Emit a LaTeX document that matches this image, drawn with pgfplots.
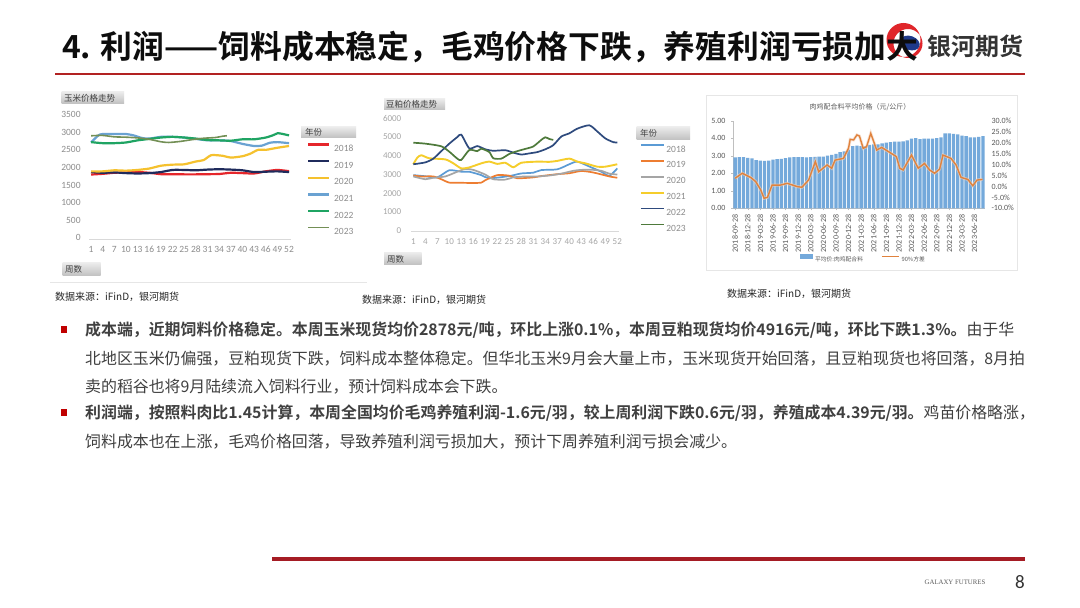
\documentclass[border=0pt]{standalone}
\usepackage{pgfplots}
\pgfplotsset{compat=1.18}
\usepackage{fontspec}
\setmainfont{Noto Sans CJK SC}[BoldFont={Noto Sans CJK SC Bold}]
\newfontfamily\calfont{Carlito}
\newfontfamily\tmsfont{Liberation Serif}
\definecolor{tc}{HTML}{404040}
\definecolor{red18}{HTML}{E5262B}
\definecolor{nav19}{HTML}{1F2B5C}
\definecolor{yel20}{HTML}{F5C12E}
\definecolor{blu21}{HTML}{6AA2D2}
\definecolor{grn22}{HTML}{1FA463}
\definecolor{olv23}{HTML}{738F55}
\definecolor{b18}{HTML}{5B9BD5}
\definecolor{o19}{HTML}{ED7D31}
\definecolor{g20}{HTML}{A5A5A5}
\definecolor{y21}{HTML}{F5CD2B}
\definecolor{n22}{HTML}{2E4A7D}
\definecolor{gr23}{HTML}{4E7A3B}
\definecolor{barb}{HTML}{74A9DB}
\definecolor{lino}{HTML}{E0823D}
\definecolor{c1ax}{HTML}{D9D9D9}
\definecolor{c1tk}{HTML}{8C8C8C}
\definecolor{c2tk}{HTML}{A6A6A6}
\definecolor{c3tk}{HTML}{595959}
\definecolor{c3ax}{HTML}{BFBFBF}
\definecolor{frame}{HTML}{E6E6E6}
\definecolor{titred}{HTML}{B22222}
\definecolor{botred}{HTML}{A51C24}
\definecolor{logoblue}{HTML}{1F3A8A}
\definecolor{logored}{HTML}{E0262B}
\definecolor{bullet}{HTML}{C00000}
\tikzset{btn/.style={top color=white!92!black, bottom color=white!75!black, draw=none}}
\begin{document}
\begin{tikzpicture}[x=1pt,y=1pt]
\useasboundingbox (0,0) rectangle (1080,608);
\fill[white] (0,0) rectangle (1080,608);
% logo
\fill[logored, even odd rule] (903.5,568) circle (17) (908,564.5) circle (14.5);
\fill[logoblue, rotate around={-20:(910,565)}] (910,565) ellipse (10 and 7);
% title
\node[anchor=base west, inner sep=0pt, text=black!95] at (62,549.6) {\fontsize{31.8}{31.8}\selectfont\bfseries 4. 利润——饲料成本稳定，毛鸡价格下跌，养殖利润亏损加大};
\node[anchor=base west, inner sep=0pt, text=black!80] at (927,552.7) {\fontsize{24}{24}\selectfont\bfseries 银河期货};
\draw[titred, line width=1.8pt] (55,534) -- (1025,534);
% chart frames
\draw[frame, line width=0.8pt] (50,326) -- (367,326);
\draw[frame, line width=0.8pt] (706,338) rectangle (1017,513);
% chart 1 buttons
\shade[btn] (61.7,504) rectangle (124,516);
\node[anchor=west, inner sep=0pt, text=tc] at (64,510) {\fontsize{8.5}{8.5}\selectfont 玉米价格走势};
\shade[btn] (62.7,332) rectangle (100.7,345);
\node[anchor=west, inner sep=0pt, text=tc] at (65,338.5) {\fontsize{8.5}{8.5}\selectfont 周数};
\shade[btn] (301,470) rectangle (356,481);
\node[anchor=west, inner sep=0pt, text=tc] at (305,475.5) {\fontsize{8.5}{8.5}\selectfont 年份};
% chart 2 buttons
\shade[btn] (384,498) rectangle (445,509);
\node[anchor=west, inner sep=0pt, text=tc] at (386,503.5) {\fontsize{8.5}{8.5}\selectfont 豆粕价格走势};
\shade[btn] (384,343) rectangle (421.7,355.3);
\node[anchor=west, inner sep=0pt, text=tc] at (387,349.2) {\fontsize{8.5}{8.5}\selectfont 周数};
\shade[btn] (636.7,468) rectangle (690,481);
\node[anchor=west, inner sep=0pt, text=tc] at (640,474.5) {\fontsize{8.5}{8.5}\selectfont 年份};

% ---------- chart 1 ----------
\begin{axis}[at={(89.1pt,369pt)}, anchor=south west, scale only axis, width=201.9pt, height=123.3pt,
  xmin=0.5, xmax=52.5, ymin=0, ymax=3500,
  xtick={1,4,7,10,13,16,19,22,25,28,31,34,37,40,43,46,49,52}, ytick={0,500,...,3500},
  axis lines*=left, x axis line style={draw=c1ax,-}, y axis line style={draw=none},
  major tick length=0pt, typeset ticklabels with strut,
  tick label style={font=\calfont\fontsize{9.5}{9.5}\selectfont, text=c1tk},
  /pgf/number format/assume math mode=true, /pgf/number format/1000 sep={},
  xticklabel style={yshift=-3pt, inner xsep=0pt}, yticklabel style={xshift=-5pt},
  legend style={at={(1.079,0.776)}, anchor=north west, draw=none, fill=none, inner sep=0pt, outer sep=0pt,
    row sep=8.6pt, font=\calfont\fontsize{9.5}{9.5}\selectfont, text=c1tk,
    nodes={inner sep=0pt, text height=7pt, text depth=0pt},
    /tikz/every odd column/.append style={column sep=4pt}},
  legend cell align=left,
  legend image code/.code={\draw[#1] (0pt,3.5pt) -- (21pt,3.5pt);},
]
\addplot[red18, line width=2.2pt, smooth, tension=0.4] coordinates {(1,1830)(4,1850)(7,1880)(10,1890)(13,1900)(16,1880)(19,1840)(22,1840)(25,1835)(28,1835)(31,1840)(34,1845)(37,1880)(40,1870)(43,1860)(46,1920)(49,1960)(52,1925)};
\addlegendentry{2018}
\addplot[nav19, line width=2.2pt, smooth, tension=0.4] coordinates {(1,1900)(4,1880)(7,1890)(10,1870)(13,1860)(16,1870)(19,1900)(22,1960)(25,1960)(28,1950)(31,1970)(34,1980)(37,1970)(40,1950)(43,1900)(46,1910)(49,1920)(52,1900)};
\addlegendentry{2019}
\addplot[yel20, line width=2.2pt, smooth, tension=0.4] coordinates {(1,1920)(4,1920)(7,1950)(10,1940)(13,1960)(16,2000)(19,2080)(22,2110)(25,2120)(28,2200)(30,2240)(32,2380)(35,2360)(37,2310)(40,2350)(42,2420)(44,2530)(46,2530)(49,2590)(52,2640)};
\addlegendentry{2020}
\addplot[blu21, line width=2.2pt, smooth, tension=0.4] coordinates {(1,2740)(2,2850)(3,2950)(4,2980)(7,2980)(10,2980)(12,2940)(14,2870)(16,2850)(19,2900)(22,2900)(25,2880)(28,2840)(31,2800)(34,2800)(37,2780)(40,2700)(43,2640)(45,2650)(47,2730)(49,2750)(52,2720)};
\addlegendentry{2021}
\addplot[grn22, line width=2.2pt, smooth, tension=0.4] coordinates {(1,2750)(4,2720)(7,2720)(10,2740)(13,2800)(16,2840)(19,2880)(22,2900)(25,2880)(28,2850)(31,2810)(34,2800)(37,2790)(40,2830)(43,2830)(46,2880)(48,2950)(49,3000)(50,2990)(52,2940)};
\addlegendentry{2022}
\addplot[olv23, line width=1.6pt, smooth, tension=0.4] coordinates {(1,2930)(4,2940)(7,2900)(10,2890)(13,2870)(16,2830)(19,2760)(21,2740)(24,2770)(27,2820)(30,2860)(33,2880)(35,2920)(36,2930)};
\addlegendentry{2023}
\end{axis}

% ---------- chart 2 ----------
\begin{axis}[at={(411.3pt,376.3pt)}, anchor=south west, scale only axis, width=208pt, height=112.4pt,
  xmin=0.5, xmax=52.5, ymin=0, ymax=6000,
  xtick={1,4,7,10,13,16,19,22,25,28,31,34,37,40,43,46,49,52}, ytick={0,1000,...,6000},
  axis lines*=left, x axis line style={draw=c1ax,-}, y axis line style={draw=none},
  major tick length=0pt, typeset ticklabels with strut,
  tick label style={font=\calfont\fontsize{9}{9}\selectfont, text=c2tk},
  /pgf/number format/assume math mode=true, /pgf/number format/1000 sep={},
  xticklabel style={yshift=-3pt}, yticklabel style={xshift=-6.5pt},
  legend style={at={(1.0995,0.778)}, anchor=north west, draw=none, fill=none, inner sep=0pt, outer sep=0pt,
    row sep=8.0pt, font=\calfont\fontsize{9.5}{9.5}\selectfont, text=c1tk,
    nodes={inner sep=0pt, text height=7pt, text depth=0pt},
    /tikz/every odd column/.append style={column sep=1.5pt}},
  legend cell align=left,
  legend image code/.code={\draw[#1] (0pt,3.5pt) -- (23pt,3.5pt);},
]
\addplot[b18, line width=1.7pt, smooth, tension=0.4] coordinates {(1,3020)(4,2960)(7,2900)(10,3280)(13,3200)(15,3200)(18,3020)(20,2850)(25,2970)(28,3110)(31,3150)(33,3290)(37,3330)(40,3600)(42,3740)(45,3480)(48,3200)(50,2980)(52,3380)};
\addlegendentry{2018}
\addplot[o19, line width=1.7pt, smooth, tension=0.4] coordinates {(1,3000)(3,2950)(6,2950)(8,2800)(10,2620)(13,2610)(16,2600)(18,2620)(19,2750)(22,3020)(25,2990)(27,2850)(31,2900)(33,2970)(37,3070)(40,3120)(43,3240)(46,3160)(50,2950)(52,2880)};
\addlegendentry{2019}
\addplot[g20, line width=1.7pt, smooth, tension=0.4] coordinates {(1,2950)(4,2800)(6,2880)(9,2950)(12,3200)(14,3350)(16,3300)(19,3050)(21,2800)(24,2780)(26,2900)(29,2950)(32,2950)(35,3000)(38,3100)(41,3250)(43,3300)(46,3300)(48,3250)(50,3100)(52,3050)};
\addlegendentry{2020}
\addplot[y21, line width=1.9pt, smooth, tension=0.4] coordinates {(1,3600)(2,3950)(3,4080)(5,3920)(9,3860)(11,3650)(13,3380)(15,3430)(18,3650)(20,3740)(22,3620)(24,3680)(26,3440)(28,3680)(32,3740)(35,3730)(37,3780)(40,3900)(42,3740)(44,3650)(47,3470)(49,3470)(52,3600)};
\addlegendentry{2021}
\addplot[n22, line width=1.7pt, smooth, tension=0.4] coordinates {(1,3600)(4,3700)(6,3900)(8,4300)(10,4700)(12,5050)(13,5180)(15,4450)(17,4570)(19,4400)(21,4320)(24,4350)(26,4220)(28,4120)(30,4180)(32,4250)(34,4400)(36,4620)(38,5080)(40,5250)(42,5500)(45,5680)(47,5350)(49,4980)(51,4780)(52,4760)};
\addlegendentry{2022}
\addplot[gr23, line width=1.7pt, smooth, tension=0.4] coordinates {(1,4750)(4,4700)(8,4560)(10,4270)(12,3900)(13,3830)(15,4360)(17,4300)(18,4430)(20,4250)(21,3920)(23,3900)(25,4150)(27,4300)(29,4420)(31,4550)(33,4900)(34,5040)(35,4950)(36,4900)};
\addlegendentry{2023}
\end{axis}

% ---------- chart 3 ----------
\node[text=c3tk, inner sep=0pt] at (860,501) {\fontsize{7}{7}\selectfont 肉鸡配合料平均价格（元/公斤）};
\begin{axis}[at={(733pt,399.7pt)}, anchor=south west, scale only axis, width=252pt, height=87.6pt,
  xmin=-0.5, xmax=59.5, ymin=0, ymax=5, ytick={0,1,...,5},
  yticklabel={\pgfmathprintnumber[fixed,fixed zerofill,precision=2]{\tick}},
  xtick={0,3,...,57},
  xticklabels={2018-09-28,2018-12-28,2019-03-28,2019-06-28,2019-09-28,2019-12-28,2020-03-28,2020-06-28,2020-09-28,2020-12-28,2021-03-28,2021-06-28,2021-09-28,2021-12-28,2022-03-28,2022-06-28,2022-09-28,2022-12-28,2023-03-28,2023-06-28},
  xticklabel style={rotate=90, anchor=east, xshift=-1pt},
  axis lines*=left, axis line style={draw=c3ax,-},
  tick style={draw=c3ax}, major tick length=2pt, tick align=outside,
  tick label style={font=\calfont\fontsize{8}{8}\selectfont, text=c3tk},
  yticklabel style={xshift=-2pt},
  /pgf/number format/assume math mode=true,
  legend style={at={(0.266,-0.567)}, anchor=west, draw=none, fill=none, inner sep=0pt, outer sep=0pt,
    legend columns=2, font=\fontsize{5.8}{5.8}\selectfont, text=c3tk,
    nodes={inner sep=0pt, text height=5pt, text depth=0pt},
    /tikz/every odd column/.append style={column sep=2pt},
    /tikz/every even column/.append style={column sep=18pt}},
  legend image code/.code={\draw[#1] (0pt,2.5pt) -- (17pt,2.5pt);},
]
\addplot[ybar, bar width=3.3pt, bar shift=0pt, fill=barb, draw=none,
  legend image code/.code={\fill[barb] (0pt,0pt) rectangle (13pt,5pt);}] coordinates {
(0,2.90)(1,2.92)(2,2.92)(3,2.88)(4,2.85)(5,2.75)(6,2.72)(7,2.70)(8,2.72)(9,2.78)
(10,2.80)(11,2.82)(12,2.86)(13,2.90)(14,2.92)(15,2.92)(16,2.92)(17,2.90)(18,2.92)(19,2.93)
(20,2.95)(21,2.95)(22,3.00)(23,3.05)(24,3.10)(25,3.20)(26,3.25)(27,3.35)(28,3.55)(29,3.58)
(30,3.55)(31,3.55)(32,3.62)(33,3.65)(34,3.65)(35,3.70)(36,3.75)(37,3.78)(38,3.80)(39,3.80)
(40,3.82)(41,3.88)(42,3.98)(43,4.00)(44,3.95)(45,3.98)(46,3.97)(47,3.98)(48,4.00)(49,4.05)
(50,4.28)(51,4.28)(52,4.25)(53,4.22)(54,4.15)(55,4.12)(56,4.05)(57,4.05)(58,4.08)(59,4.12)};
\addlegendentry{平均价:肉鸡配合料}
\addlegendimage{lino, line width=1.5pt}
\addlegendentry{90\%方差}
\end{axis}
\begin{axis}[at={(733pt,399.7pt)}, anchor=south west, scale only axis, width=252pt, height=87.6pt,
  xmin=-0.5, xmax=59.5, ymin=-10, ymax=30, ytick={-10,-5,...,30}, xtick=\empty,
  axis x line=none, axis y line*=right, y axis line style={draw=none},
  major tick length=0pt,
  yticklabel={\pgfmathprintnumber[fixed,fixed zerofill,precision=1]{\tick}\%},
  tick label style={font=\calfont\fontsize{8}{8}\selectfont, text=c3tk},
  yticklabel style={xshift=3pt},
  /pgf/number format/assume math mode=true,
]
\addplot[lino!35, line width=3pt, opacity=0.6] coordinates {(0,3.7)(1.7,6.0)(3.7,4.1)(4.9,2.2)(6.1,-1.6)(6.9,-5.4)(7.7,-5.0)(8.8,0.6)(10.8,0.6)(12.4,1.4)(14.8,-0.1)(15.9,-0.4)(17.5,2.9)(19.1,11.3)(19.9,6.7)(21.9,9.8)(23.0,8.3)(23.8,12.0)(25.8,12.8)(27.0,17.4)(27.4,21.5)(28.2,21.2)(29.0,23.5)(29.6,23.0)(30.5,17.4)(31.3,18.1)(32.3,24.2)(32.9,21.0)(33.7,16.6)(34.9,17.8)(36.5,15.9)(38.4,13.6)(39.2,8.3)(40.0,7.5)(42.0,14.3)(43.6,8.3)(45.1,10.5)(46.3,7.5)(47.5,6.0)(48.7,7.9)(49.5,14.3)(51.4,12.8)(52.6,9.8)(53.8,4.1)(55.4,3.2)(56.6,0.3)(57.6,2.9)(58.9,3.2)};
\addplot[lino, line width=1.4pt] coordinates {(0,3.7)(1.7,6.0)(3.7,4.1)(4.9,2.2)(6.1,-1.6)(6.9,-5.4)(7.7,-5.0)(8.8,0.6)(10.8,0.6)(12.4,1.4)(14.8,-0.1)(15.9,-0.4)(17.5,2.9)(19.1,11.3)(19.9,6.7)(21.9,9.8)(23.0,8.3)(23.8,12.0)(25.8,12.8)(27.0,17.4)(27.4,21.5)(28.2,21.2)(29.0,23.5)(29.6,23.0)(30.5,17.4)(31.3,18.1)(32.3,24.2)(32.9,21.0)(33.7,16.6)(34.9,17.8)(36.5,15.9)(38.4,13.6)(39.2,8.3)(40.0,7.5)(42.0,14.3)(43.6,8.3)(45.1,10.5)(46.3,7.5)(47.5,6.0)(48.7,7.9)(49.5,14.3)(51.4,12.8)(52.6,9.8)(53.8,4.1)(55.4,3.2)(56.6,0.3)(57.6,2.9)(58.9,3.2)};
\end{axis}

% sources
\node[anchor=base west, inner sep=0pt, text=black!85] at (55,307) {\fontsize{10}{10}\selectfont 数据来源：iFinD，银河期货};
\node[anchor=base west, inner sep=0pt, text=black!85] at (362,304) {\fontsize{10}{10}\selectfont 数据来源：iFinD，银河期货};
\node[anchor=base west, inner sep=0pt, text=black!85] at (727,310) {\fontsize{10}{10}\selectfont 数据来源：iFinD，银河期货};

% body text
\fill[bullet] (61,274.5) rectangle (67,281.5);
\fill[bullet] (61,191.5) rectangle (67,198.5);
\begin{scope}[every node/.style={anchor=base west, inner sep=0pt, text=tc, font=\fontsize{15.9}{15.9}\selectfont}]
\node at (85,272) {\textbf{成本端，近期饲料价格稳定。本周玉米现货均价2878元/吨，环比上涨0.1\%，本周豆粕现货均价4916元/吨，环比下跌1.3\%。}由于华};
\node at (85,243) {北地区玉米仍偏强，豆粕现货下跌，饲料成本整体稳定。但华北玉米9月会大量上市，玉米现货开始回落，且豆粕现货也将回落，8月拍};
\node at (85,215) {卖的稻谷也将9月陆续流入饲料行业，预计饲料成本会下跌。};
\node at (85,189) {\textbf{利润端，按照料肉比1.45计算，本周全国均价毛鸡养殖利润-1.6元/羽，较上周利润下跌0.6元/羽，养殖成本4.39元/羽。}鸡苗价格略涨，};
\node at (85,160) {饲料成本也在上涨，毛鸡价格回落，导致养殖利润亏损加大，预计下周养殖利润亏损会减少。};
\end{scope}

% footer
\draw[botred, line width=3.5pt] (272,49) -- (1025,49);
\node[inner sep=0pt, text=black!65] at (955,26) {\tmsfont\fontsize{6.8}{6.8}\selectfont GALAXY FUTURES};
\node[inner sep=0pt, text=black!80] at (1020,26) {\calfont\fontsize{19}{19}\selectfont 8};
\end{tikzpicture}
\end{document}
